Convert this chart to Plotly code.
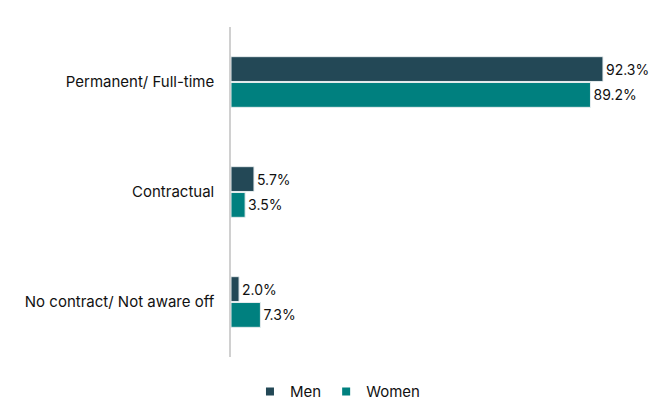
import plotly.graph_objects as go

categories = ["Permanent/ Full-time", "Contractual", "No contract/ Not aware off"]
men = [92.3, 5.7, 2.0]
women = [89.2, 3.5, 7.3]

MEN_COLOR = "#234856"
WOMEN_COLOR = "#00807F"
FONT = "Inter"
TEXT = "#111111"

fig = go.Figure()
for name, vals, color in [("Men", men, MEN_COLOR), ("Women", women, WOMEN_COLOR)]:
    fig.add_trace(go.Bar(
        y=categories, x=vals, name=name, orientation="h",
        marker=dict(color=color, line=dict(color="#e6ecee", width=1)),
        text=[f"{v:.1f}%" for v in vals], textposition="outside",
        textfont=dict(size=14, color=TEXT, family=FONT),
        cliponaxis=False, showlegend=False,
    ))

# legend entries with small square swatches
for name, color in [("Men", MEN_COLOR), ("Women", WOMEN_COLOR)]:
    fig.add_trace(go.Scatter(
        x=[None], y=[None], mode="markers", name=name,
        marker=dict(symbol="square", size=8, color=color),
    ))

fig.update_layout(
    width=649, height=416,
    margin=dict(l=231, r=15, t=27, b=59),
    barmode="group", bargap=0.53, bargroupgap=0.04,
    paper_bgcolor="white", plot_bgcolor="white",
    font=dict(family=FONT, size=15, color=TEXT),
    showlegend=True,
    legend=dict(orientation="h", xref="container", yref="container",
                x=0.52, y=0.058, xanchor="center", yanchor="middle",
                font=dict(size=15, color=TEXT), traceorder="normal",
                itemwidth=30),
    xaxis=dict(range=[0, 100], visible=False, showgrid=False, zeroline=False),
    yaxis=dict(autorange="reversed", showline=True, linecolor="#d0d0d0", linewidth=1.5,
               ticks="", showgrid=False, ticklabelstandoff=12,
               tickfont=dict(size=15, color=TEXT)),
)

fig.write_html("out.html")
